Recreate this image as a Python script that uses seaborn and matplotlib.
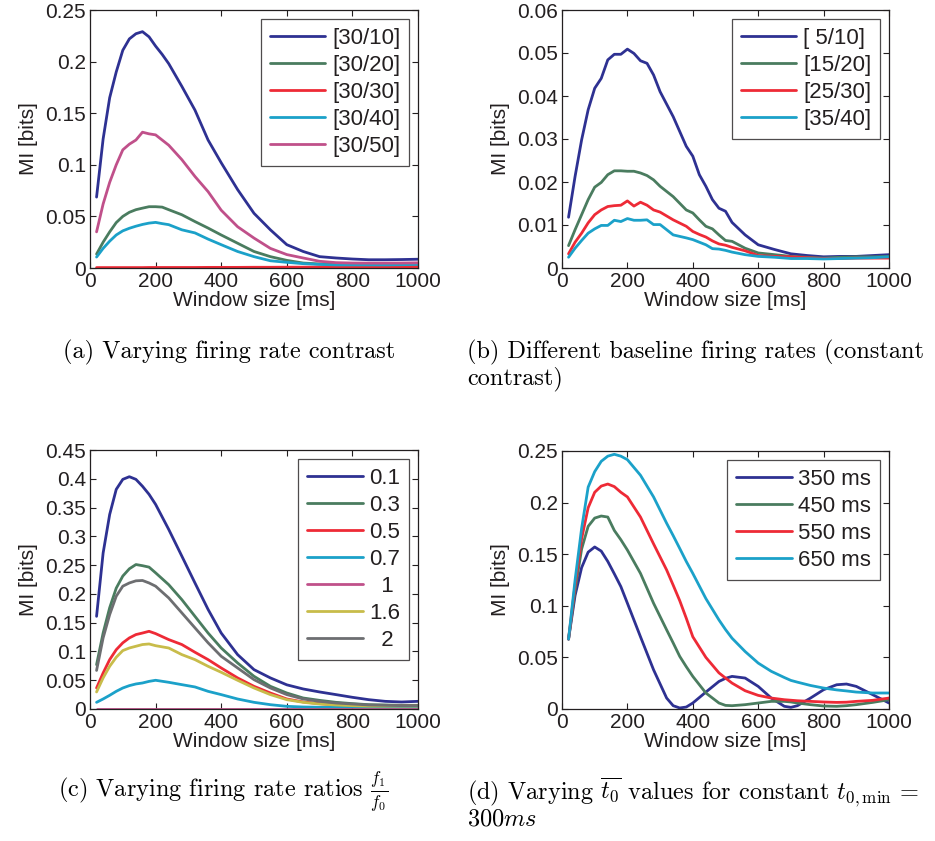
import numpy as np
import pandas as pd
import matplotlib
matplotlib.use("Agg")
import matplotlib.pyplot as plt
from matplotlib.ticker import FuncFormatter, FixedLocator
import seaborn as sns

# ---------------- data ----------------
# panel (a)
xa = [20, 40, 60, 80, 100, 120, 140, 160, 180, 200, 220, 240, 280, 320, 360, 400,
      450, 500, 550, 600, 650, 700, 750, 800, 850, 900, 950, 1000]
a_labels = ["[30/10]", "[30/20]", "[30/30]", "[30/40]", "[30/50]"]
a_3010 = [0.0687, 0.125, 0.165, 0.19, 0.211, 0.222, 0.227, 0.229, 0.224, 0.215, 0.207, 0.198,
          0.176, 0.153, 0.124, 0.102, 0.076, 0.053, 0.037, 0.0226, 0.016, 0.011, 0.0097,
          0.0087, 0.008, 0.008, 0.0082, 0.0085]
a_3020 = [0.0135, 0.025, 0.035, 0.044, 0.05, 0.054, 0.0565, 0.058, 0.0594, 0.0594, 0.059,
          0.0565, 0.0516, 0.045, 0.0387, 0.032, 0.024, 0.016, 0.011, 0.0074, 0.0048, 0.0039,
          0.0035, 0.0033, 0.0032, 0.0033, 0.0034, 0.0036]
a_3030 = [0.0004, 0.0004, 0.0004, 0.0004, 0.0004, 0.0004, 0.0004, 0.0004, 0.0005, 0.0005,
          0.0005, 0.0005, 0.0005, 0.0005, 0.0006, 0.0006, 0.0006, 0.0007, 0.0007, 0.0008,
          0.0008, 0.0009, 0.0010, 0.0010, 0.0011, 0.0012, 0.0013, 0.0014]
a_3040 = [0.0106, 0.019, 0.026, 0.032, 0.036, 0.0385, 0.0405, 0.0422, 0.0435, 0.0442, 0.043,
          0.042, 0.037, 0.034, 0.028, 0.0226, 0.016, 0.011, 0.007, 0.0055, 0.0042, 0.0035,
          0.003, 0.003, 0.003, 0.003, 0.0032, 0.0035]
a_3050 = [0.035, 0.062, 0.083, 0.1, 0.1145, 0.12, 0.124, 0.1316, 0.13, 0.129, 0.124, 0.119,
          0.105, 0.0887, 0.074, 0.056, 0.040, 0.029, 0.019, 0.013, 0.0097, 0.0065, 0.0052,
          0.0048, 0.0047, 0.0047, 0.0048, 0.005]

# panel (b)
xb = [20, 40, 60, 80, 100, 120, 140, 160, 180, 200, 220, 240, 260, 280, 300, 340, 380, 400,
      420, 440, 460, 480, 500, 520, 560, 600, 650, 700, 750, 800, 850, 900, 950, 1000]
b_labels = ["[ 5/10]", "[15/20]", "[25/30]", "[35/40]"]
b_0510 = [0.0118, 0.0213, 0.0298, 0.0368, 0.0418, 0.0441, 0.0484, 0.0497, 0.0497, 0.0509,
          0.0499, 0.0482, 0.0476, 0.0449, 0.041, 0.0352, 0.0283, 0.026, 0.0217, 0.019, 0.0159,
          0.0139, 0.0132, 0.0106, 0.0077, 0.0054, 0.0043, 0.0033, 0.0029, 0.0026, 0.0027,
          0.0027, 0.0029, 0.0031]
b_1520 = [0.0052, 0.0089, 0.0124, 0.0159, 0.0188, 0.0199, 0.0217, 0.0226, 0.0226, 0.0225,
          0.0225, 0.0221, 0.0215, 0.0205, 0.019, 0.0166, 0.0135, 0.0128, 0.0112, 0.0097,
          0.0091, 0.0077, 0.0064, 0.0062, 0.0046, 0.0035, 0.0031, 0.0027, 0.0025, 0.0023,
          0.0025, 0.0026, 0.0026, 0.0027]
b_2530 = [0.0033, 0.006, 0.0081, 0.0105, 0.0124, 0.0135, 0.0143, 0.0145, 0.0146, 0.0156,
          0.0144, 0.0153, 0.0146, 0.0135, 0.013, 0.0112, 0.0097, 0.0085, 0.0078, 0.0072,
          0.0063, 0.0056, 0.0053, 0.0048, 0.0040, 0.0029, 0.0027, 0.0026, 0.0024, 0.0022,
          0.0022, 0.0023, 0.0023, 0.0023]
b_3540 = [0.0025, 0.0046, 0.0064, 0.0081, 0.0091, 0.0099, 0.0099, 0.0111, 0.0108, 0.0115,
          0.0111, 0.0111, 0.0112, 0.0101, 0.0101, 0.0077, 0.007, 0.0066, 0.006, 0.0054,
          0.0045, 0.0044, 0.0041, 0.0037, 0.0031, 0.0027, 0.0025, 0.0022, 0.0022, 0.0021,
          0.0022, 0.0023, 0.0024, 0.0026]

# panel (c)
xc = [20, 40, 60, 80, 100, 120, 140, 160, 180, 200, 240, 280, 320, 360, 400, 450, 500, 550,
      600, 650, 700, 750, 800, 850, 900, 950, 1000]
c_labels = ["0.1", "0.3", "0.5", "0.7", "  1", "1.6", "  2"]
c_01 = [0.161, 0.271, 0.338, 0.3816, 0.399, 0.4036, 0.399, 0.387, 0.373, 0.3555, 0.312,
        0.2656, 0.219, 0.173, 0.132, 0.0945, 0.0684, 0.054, 0.042, 0.0348, 0.0296, 0.025,
        0.0203, 0.0162, 0.0133, 0.0122, 0.0133]
c_03 = [0.077, 0.132, 0.176, 0.21, 0.231, 0.2436, 0.251, 0.249, 0.2465, 0.2366, 0.216, 0.19,
        0.161, 0.132, 0.106, 0.080, 0.0568, 0.0394, 0.0278, 0.0191, 0.015, 0.0116, 0.0093,
        0.0075, 0.007, 0.0064, 0.0064]
c_05 = [0.0365, 0.0626, 0.0858, 0.103, 0.115, 0.1235, 0.1293, 0.132, 0.135, 0.131, 0.1206,
        0.112, 0.0986, 0.0858, 0.0713, 0.054, 0.0394, 0.0278, 0.0174, 0.0122, 0.0093, 0.007,
        0.0058, 0.0052, 0.005, 0.005, 0.005]
c_07 = [0.0116, 0.0174, 0.0238, 0.0307, 0.0365, 0.0406, 0.0435, 0.0452, 0.048, 0.0499,
        0.0464, 0.0423, 0.0383, 0.0307, 0.025, 0.0174, 0.0116, 0.0075, 0.0046, 0.0035, 0.003,
        0.003, 0.003, 0.003, 0.003, 0.003, 0.003]
c_1 = [0.0005, 0.0005, 0.0005, 0.0005, 0.0005, 0.0005, 0.0005, 0.0005, 0.0005, 0.0005,
       0.0005, 0.0005, 0.0005, 0.0005, 0.0005, 0.0005, 0.0005, 0.0005, 0.0005, 0.0005,
       0.0005, 0.0005, 0.0005, 0.0005, 0.0005, 0.0005, 0.0005]
c_16 = [0.0296, 0.054, 0.0742, 0.0899, 0.1015, 0.106, 0.109, 0.112, 0.113, 0.110, 0.106,
        0.0945, 0.0858, 0.0742, 0.0638, 0.0499, 0.0365, 0.025, 0.0162, 0.0116, 0.0087, 0.007,
        0.0058, 0.005, 0.005, 0.005, 0.005]
c_2 = [0.067, 0.1235, 0.164, 0.196, 0.2134, 0.219, 0.2227, 0.2233, 0.219, 0.2134, 0.193,
       0.167, 0.141, 0.115, 0.0916, 0.0713, 0.051, 0.0365, 0.025, 0.0174, 0.0133, 0.0104,
       0.0087, 0.007, 0.0064, 0.0058, 0.0058]

# panel (d)
xd = [20, 40, 60, 80, 100, 120, 140, 160, 180, 200, 240, 280, 320, 340, 360, 380, 400, 440,
      480, 500, 520, 560, 600, 640, 680, 700, 720, 760, 800, 840, 870, 900, 950, 1000]
d_labels = ["350 ms", "450 ms", "550 ms", "650 ms"]
d_350 = [0.0677, 0.11, 0.137, 0.152, 0.157, 0.153, 0.143, 0.131, 0.1186, 0.1025, 0.070,
         0.038, 0.0106, 0.0032, 0.001, 0.0019, 0.0058, 0.0164, 0.0267, 0.0297, 0.0316, 0.030,
         0.0219, 0.0106, 0.0026, 0.0016, 0.0032, 0.0106, 0.0187, 0.0235, 0.0242, 0.0219,
         0.0139, 0.0058]
d_450 = [0.0677, 0.115, 0.155, 0.177, 0.185, 0.187, 0.186, 0.173, 0.164, 0.154, 0.1314,
         0.1025, 0.0767, 0.064, 0.051, 0.041, 0.0316, 0.0155, 0.0058, 0.0035, 0.0032, 0.0042,
         0.0058, 0.0074, 0.0074, 0.0068, 0.0058, 0.0042, 0.0029, 0.0026, 0.0032, 0.0042,
         0.0064, 0.009]
d_550 = [0.0677, 0.12, 0.165, 0.195, 0.21, 0.216, 0.218, 0.2155, 0.21, 0.2055, 0.186, 0.160,
         0.1347, 0.12, 0.105, 0.088, 0.07, 0.05, 0.035, 0.03, 0.0251, 0.0177, 0.0132, 0.0106,
         0.009, 0.0085, 0.008, 0.0074, 0.0068, 0.0064, 0.0066, 0.0074, 0.0084, 0.0106]
d_650 = [0.0677, 0.125, 0.175, 0.215, 0.23, 0.24, 0.245, 0.2468, 0.245, 0.2416, 0.2265,
         0.2055, 0.18, 0.168, 0.1556, 0.143, 0.1314, 0.107, 0.0863, 0.077, 0.0686, 0.0557,
         0.0445, 0.0365, 0.0305, 0.0277, 0.026, 0.0228, 0.0203, 0.0185, 0.0175, 0.0164,
         0.0155, 0.0155]

# ---------------- style ----------------
BLUE = "#2e3192"
GREEN = "#4a7c5f"
RED = "#ee2a36"
CYAN = "#1ba1c9"
MAGENTA = "#c0508a"
YELLOW = "#c8bc4a"
GRAY = "#6d6e71"
TXT = "#231f20"
FS = 15
LFS = 16

sns.set_style("ticks")
plt.rcParams["font.family"] = ["Liberation Sans", "DejaVu Sans"]
plt.rcParams["mathtext.fontset"] = "cm"
plt.rcParams["axes.unicode_minus"] = False

fig = plt.figure(figsize=(9.35, 8.41), dpi=100)
W, H = 935.0, 841.0


def make_ax(left, top, right, bottom):
    return fig.add_axes([left / W, 1 - bottom / H, (right - left) / W, (bottom - top) / H])


def fmt(v, pos):
    return "%g" % round(v, 4)


def draw(ax, x, series, labels, colors, ymax, ystep):
    frames = []
    for lab, ys in zip(labels, series):
        frames.append(pd.DataFrame({"x": x, "y": ys, "s": lab}))
    df = pd.concat(frames, ignore_index=True)
    sns.lineplot(data=df, x="x", y="y", hue="s", hue_order=labels,
                 palette=dict(zip(labels, colors)), linewidth=2.0, ax=ax,
                 legend=False, estimator=None, sort=False)
    ax.set_xlim(0, 1000)
    ax.set_ylim(0, ymax)
    ax.xaxis.set_major_locator(FixedLocator(np.arange(0, 1001, 200)))
    ax.yaxis.set_major_locator(FixedLocator(np.arange(0, ymax + 1e-9, ystep)))
    ax.yaxis.set_major_formatter(FuncFormatter(fmt))
    ax.tick_params(direction="in", length=4, width=0.8, top=True, right=True,
                   labelsize=FS, colors=TXT, labelcolor=TXT, pad=3)
    for sp in ax.spines.values():
        sp.set_visible(True)
        sp.set_linewidth(0.9)
        sp.set_color(TXT)
    ax.set_xlabel("Window size [ms]", fontsize=FS, color=TXT, labelpad=0)
    ax.set_ylabel("MI [bits]", fontsize=FS, color=TXT, labelpad=5)
    lines = ax.get_lines()[:len(labels)]
    leg = ax.legend(handles=lines, labels=labels, loc="upper right", fontsize=LFS,
                    frameon=True, fancybox=False, shadow=False, handlelength=2.5,
                    handletextpad=0.3, labelspacing=0.27, borderpad=0.4,
                    borderaxespad=0.4)
    leg.get_frame().set_edgecolor(TXT)
    leg.get_frame().set_linewidth(0.9)
    for t in leg.get_texts():
        t.set_color(TXT)
    return ax


axa = make_ax(90, 10, 418, 268)
draw(axa, xa, [a_3010, a_3020, a_3030, a_3040, a_3050], a_labels,
     [BLUE, GREEN, RED, CYAN, MAGENTA], 0.25, 0.05)

axb = make_ax(562, 10, 889, 268)
draw(axb, xb, [b_0510, b_1520, b_2530, b_3540], b_labels,
     [BLUE, GREEN, RED, CYAN], 0.06, 0.01)

axc = make_ax(90, 450, 418, 709)
draw(axc, xc, [c_01, c_03, c_05, c_07, c_1, c_16, c_2], c_labels,
     [BLUE, GREEN, RED, CYAN, MAGENTA, YELLOW, GRAY], 0.45, 0.05)

axd = make_ax(562, 451, 889, 709)
draw(axd, xd, [d_350, d_450, d_550, d_650], d_labels,
     [BLUE, GREEN, RED, CYAN], 0.25, 0.05)

# ---------------- captions ----------------
cap = dict(fontsize=17.5, family=["cmr10", "DejaVu Serif"], color="black", va="center", ha="left")
fig.text(63 / W, 1 - 352 / H, "(a) Varying firing rate contrast", **cap)
fig.text(467 / W, 1 - 352 / H, "(b) Different baseline firing rates (constant", **cap)
fig.text(467 / W, 1 - 379 / H, "contrast)", **cap)
fig.text(58 / W, 1 - 792 / H, r"(c) Varying firing rate ratios $\frac{f_1}{f_0}$", **cap)
fig.text(467 / W, 1 - 792 / H, r"(d) Varying $\overline{t_0}$ values for constant $t_{0,\mathrm{min}}$ =", **cap)
fig.text(467 / W, 1 - 819 / H, r"300$ms$", **cap)

fig.savefig("out.png", dpi=100, facecolor="white")
